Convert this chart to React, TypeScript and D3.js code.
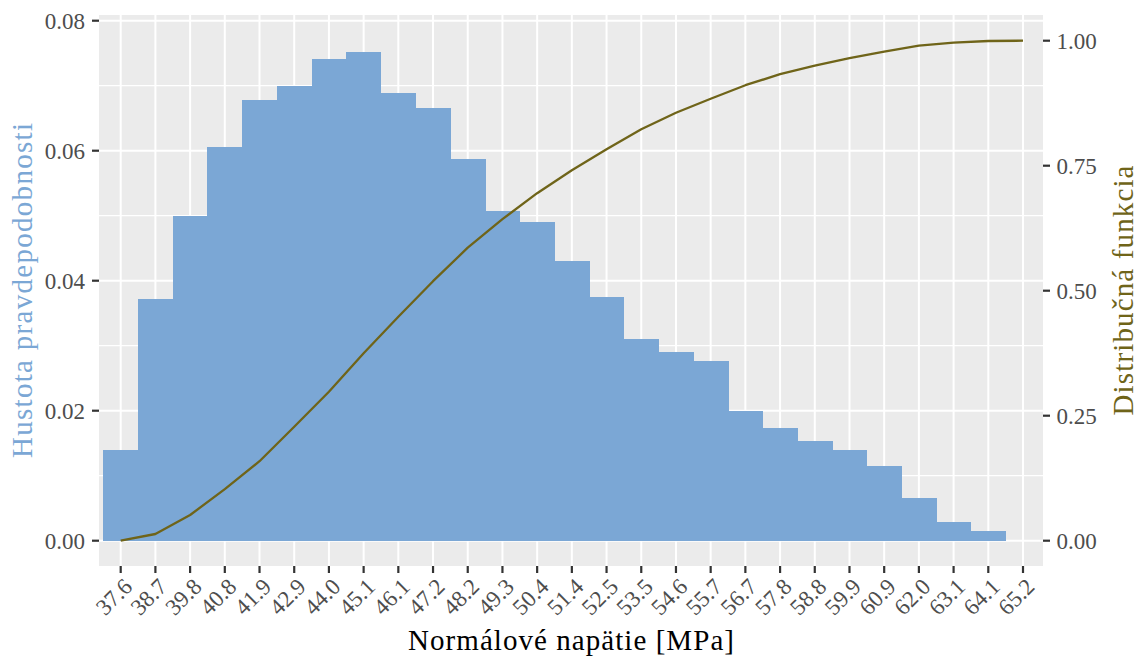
import React from "react";
import * as d3 from "d3";

// Bin labels (bin centres / CDF evaluation points)
const tickLabels = [
  "37.6", "38.7", "39.8", "40.8", "41.9", "42.9", "44.0", "45.1", "46.1",
  "47.2", "48.2", "49.3", "50.4", "51.4", "52.5", "53.5", "54.6", "55.7",
  "56.7", "57.8", "58.8", "59.9", "60.9", "62.0", "63.1", "64.1", "65.2",
];

// Relative frequency of each bin (one per label, last label has no bar)
const density = [
  0.014, 0.0372, 0.0499, 0.0606, 0.0678, 0.07, 0.0741, 0.0752, 0.0689,
  0.0666, 0.0587, 0.0507, 0.049, 0.043, 0.0375, 0.031, 0.029, 0.0277,
  0.02, 0.0173, 0.0153, 0.014, 0.0115, 0.0066, 0.0029, 0.0015,
];

// Empirical distribution function at each label
const cdf = [
  0, 0.0134, 0.0514, 0.103, 0.159, 0.228, 0.298, 0.375, 0.448, 0.519,
  0.586, 0.643, 0.695, 0.741, 0.783, 0.823, 0.856, 0.884, 0.911, 0.933,
  0.95, 0.965, 0.978, 0.99, 0.996, 0.9994, 1.0,
];

const leftTicks = [0, 0.02, 0.04, 0.06, 0.08];
const leftMinor = [0.01, 0.03, 0.05, 0.07];
const rightTicks = [0, 0.25, 0.5, 0.75, 1.0];

const W = 1141;
const H = 661;
const panel = { left: 99, right: 1043, top: 15, bottom: 566 };

const BAR = "#7BA7D5";
const LINE = "#6F6419";
const TEXT = "#4D4D4D";
const TICK = "#333333";
const FONT = "'Liberation Serif', 'Times New Roman', serif";

export default function App() {
  const x = d3.scaleLinear().domain([0, tickLabels.length - 1]).range([120.7, 1023]);
  const step = x(1) - x(0);
  const yL = d3.scaleLinear().domain([0, 0.08]).range([540.7, 20.7]);
  const yR = d3.scaleLinear().domain([0, 1]).range([540.7, 40.7]);

  const line = d3
    .line<number>()
    .x((_, i) => x(i))
    .y((d) => yR(d));

  const cx = (panel.left + panel.right) / 2;
  const cy = (panel.top + panel.bottom) / 2;

  return (
    <svg
      width={W}
      height={H}
      style={{ position: "absolute", left: 0, top: 0, background: "#fff" }}
      fontFamily={FONT}
    >
      {/* panel */}
      <rect
        x={panel.left}
        y={panel.top}
        width={panel.right - panel.left}
        height={panel.bottom - panel.top}
        fill="#EBEBEB"
      />
      {/* minor horizontal grid */}
      {leftMinor.map((v) => (
        <line key={"mn" + v} x1={panel.left} x2={panel.right} y1={yL(v)} y2={yL(v)} stroke="#fff" strokeWidth={1.2} />
      ))}
      {/* major horizontal grid */}
      {leftTicks.map((v) => (
        <line key={"mj" + v} x1={panel.left} x2={panel.right} y1={yL(v)} y2={yL(v)} stroke="#fff" strokeWidth={2} />
      ))}
      {/* vertical grid */}
      {tickLabels.map((t, i) => (
        <line key={"vg" + t} x1={x(i)} x2={x(i)} y1={panel.top} y2={panel.bottom} stroke="#fff" strokeWidth={2} />
      ))}

      {/* histogram */}
      <g shapeRendering="crispEdges">
        {density.map((d, i) => (
          <rect
            key={"b" + i}
            x={x(i) - step / 2}
            y={yL(d)}
            width={step + 0.5}
            height={yL(0) - yL(d)}
            fill={BAR}
          />
        ))}
      </g>

      {/* distribution function */}
      <path d={line(cdf) || ""} fill="none" stroke={LINE} strokeWidth={2.3} strokeLinejoin="round" />

      {/* left axis */}
      {leftTicks.map((v) => (
        <g key={"lt" + v}>
          <line x1={panel.left - 7} x2={panel.left} y1={yL(v)} y2={yL(v)} stroke={TICK} strokeWidth={2.2} />
          <text x={85} y={yL(v)} dy="0.34em" textAnchor="end" fontSize={23} fill={TEXT}>
            {v.toFixed(2)}
          </text>
        </g>
      ))}

      {/* right axis */}
      {rightTicks.map((v) => (
        <g key={"rt" + v}>
          <line x1={panel.right} x2={panel.right + 7} y1={yR(v)} y2={yR(v)} stroke={TICK} strokeWidth={2.2} />
          <text x={1056.5} y={yR(v)} dy="0.34em" textAnchor="start" fontSize={23} fill={TEXT}>
            {v.toFixed(2)}
          </text>
        </g>
      ))}

      {/* bottom axis */}
      {tickLabels.map((t, i) => (
        <g key={"bt" + t}>
          <line x1={x(i)} x2={x(i)} y1={panel.bottom} y2={panel.bottom + 7} stroke={TICK} strokeWidth={2.2} />
          <text
            transform={`translate(${x(i) + 13},${588}) rotate(-45)`}
            textAnchor="end"
            fontSize={23}
            fill={TEXT}
          >
            {t}
          </text>
        </g>
      ))}

      {/* axis titles */}
      <text x={cx} y={650} textAnchor="middle" fontSize={29} fill="#000" textLength={326} lengthAdjust="spacing">
        Normálové napätie [MPa]
      </text>
      <text
        transform={`translate(32,${cy}) rotate(-90)`}
        textAnchor="middle"
        fontSize={29}
        fill={BAR}
        textLength={335}
        lengthAdjust="spacing"
      >
        Hustota pravdepodobnosti
      </text>
      <text
        transform={`translate(1133,${cy}) rotate(-90)`}
        textAnchor="middle"
        fontSize={29}
        fill={LINE}
        textLength={250}
        lengthAdjust="spacing"
      >
        Distribučná funkcia
      </text>
    </svg>
  );
}
